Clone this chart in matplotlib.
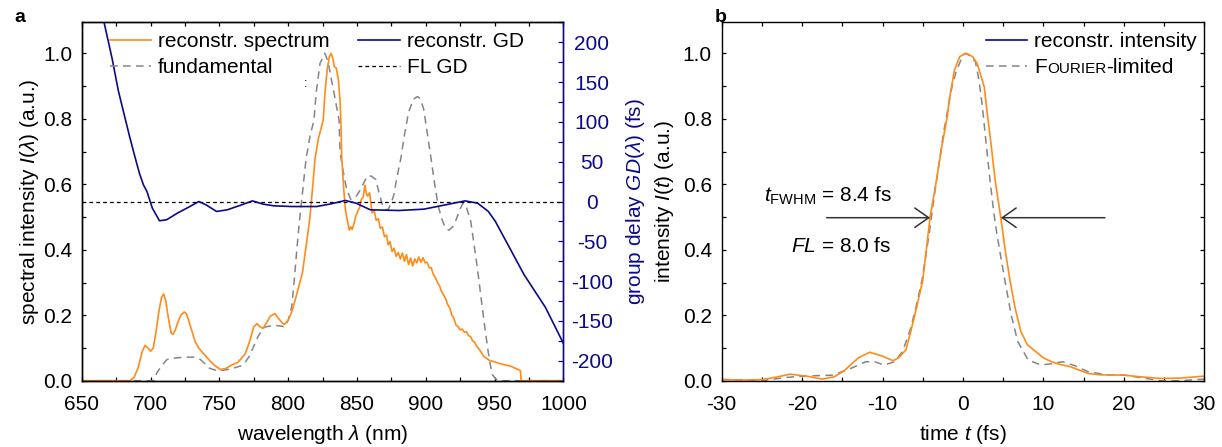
import matplotlib
matplotlib.use("Agg")
import matplotlib.pyplot as plt
from matplotlib.lines import Line2D
from matplotlib.ticker import MultipleLocator, FormatStrFormatter

plt.rcParams['font.family'] = ['Liberation Sans', 'DejaVu Sans']
plt.rcParams['mathtext.fontset'] = 'custom'
plt.rcParams['mathtext.rm'] = 'Liberation Sans'
plt.rcParams['mathtext.it'] = 'Liberation Sans:italic'
plt.rcParams['mathtext.bf'] = 'Liberation Sans:bold'
plt.rcParams['axes.unicode_minus'] = False

# ---------------- data: panel a ----------------
spec_wl = [650, 685, 688, 691, 694, 696, 698, 700, 702, 704, 706, 708, 709.5, 711, 713, 715, 716.5,
           718, 720, 722, 724.5, 726, 728, 730.5, 732.5, 735, 738, 742.9, 747, 751, 755, 759, 763.5,
           768.8, 772, 775, 777.4, 779.5, 781.8, 784, 787, 790.4, 793, 796, 797.4, 800, 802.6, 806,
           810.4, 813, 815.6, 818, 819.5, 822, 825.5, 826.7, 828.5, 830, 831.2, 832.5, 833.5, 835,
           836.5, 837.7, 838.3, 839, 840.5, 841.6, 843, 844.5, 845.5, 846.5, 848, 849, 850.6, 852,
           853.2, 854.5, 855.8, 857, 857.7, 859.2, 860.2, 861, 862.5, 864, 865.5, 867, 868.5, 870,
           871.5, 872.7, 874, 875.5, 877, 878.5, 880, 881.5, 883, 884.5, 886, 887.5, 889, 890.5, 892,
           893.5, 895, 896.5, 898, 899.5, 901, 902.5, 904, 905.5, 907, 908.5, 910, 911.5, 913, 914.5,
           916, 917.5, 919, 920.5, 922, 923.5, 925, 926.5, 928, 929.5, 931, 932.5, 934, 935.5, 937,
           938.5, 940.3, 942, 943.5, 945.5, 948, 950, 953, 956, 959, 962, 965, 968.8, 969.3, 1000]
spec_I = [0, 0, 0.01, 0.04, 0.09, 0.108, 0.1, 0.09, 0.1, 0.15, 0.21, 0.255, 0.265, 0.245, 0.19, 0.145,
          0.142, 0.155, 0.18, 0.2, 0.21, 0.205, 0.18, 0.145, 0.118, 0.1, 0.085, 0.062, 0.045, 0.034,
          0.038, 0.048, 0.056, 0.082, 0.12, 0.165, 0.174, 0.165, 0.16, 0.175, 0.197, 0.205, 0.19,
          0.175, 0.172, 0.185, 0.21, 0.26, 0.33, 0.41, 0.49, 0.6, 0.677, 0.74, 0.796, 0.878, 0.955,
          0.99, 1.0, 0.985, 0.96, 0.955, 0.92, 0.857, 0.796, 0.677, 0.58, 0.523, 0.49, 0.46, 0.47,
          0.462, 0.482, 0.5, 0.518, 0.53, 0.554, 0.56, 0.597, 0.57, 0.564, 0.574, 0.54, 0.513, 0.52,
          0.49, 0.495, 0.465, 0.47, 0.44, 0.445, 0.415, 0.425, 0.395, 0.405, 0.38, 0.392, 0.372,
          0.39, 0.365, 0.385, 0.355, 0.375, 0.35, 0.372, 0.36, 0.378, 0.362, 0.376, 0.36, 0.362,
          0.345, 0.345, 0.325, 0.315, 0.3, 0.29, 0.272, 0.262, 0.25, 0.232, 0.222, 0.2, 0.19, 0.17,
          0.165, 0.155, 0.158, 0.148, 0.15, 0.138, 0.135, 0.122, 0.118, 0.105, 0.098, 0.087, 0.075,
          0.07, 0.064, 0.06, 0.058, 0.053, 0.05, 0.047, 0.044, 0.038, 0.031, 0.0, 0.0]

fund_wl = [650, 702, 705, 708, 711.7, 715, 719.5, 725, 731.2, 734, 736.4, 740, 742.9, 748, 753, 758.4,
           763, 766.2, 769, 771.4, 775, 777.9, 781, 783.1, 789.6, 795, 797.4, 800, 802.6, 804.5,
           806.5, 808.5, 810.4, 813, 816, 818.8, 820.3, 823.2, 826.7, 829, 831, 833.4, 835.5, 837,
           837.7, 840, 842.5, 845.5, 849, 852, 855, 857.7, 860.5, 863.6, 866, 868.8, 870.5, 872.7,
           874.5, 876.6, 879, 881.8, 884.5, 887.5, 891, 894, 896, 898.5, 901, 903.9, 906.5, 909.1,
           912, 914.5, 916.9, 919.5, 922.1, 925, 927.3, 929.5, 932.5, 935, 937.7, 940.3, 942.9,
           945.5, 948.1, 952, 1000]
fund_I = [0, 0, 0.027, 0.045, 0.064, 0.068, 0.07, 0.072, 0.072, 0.07, 0.064, 0.05, 0.038, 0.031,
          0.032, 0.036, 0.042, 0.046, 0.058, 0.072, 0.105, 0.133, 0.155, 0.164, 0.169, 0.167, 0.164,
          0.185, 0.226, 0.31, 0.41, 0.5, 0.574, 0.677, 0.75, 0.796, 0.878, 0.97, 1.0, 0.975, 0.93,
          0.878, 0.83, 0.796, 0.70, 0.64, 0.585, 0.554, 0.56, 0.58, 0.605, 0.626, 0.625, 0.615,
          0.575, 0.533, 0.523, 0.523, 0.54, 0.564, 0.62, 0.677, 0.75, 0.82, 0.86, 0.868, 0.862,
          0.83, 0.76, 0.677, 0.6, 0.533, 0.49, 0.465, 0.46, 0.47, 0.492, 0.525, 0.544, 0.53, 0.492,
          0.42, 0.338, 0.25, 0.164, 0.085, 0.02, 0.0, 0.0]

gd_wl = [660, 666.2, 672, 676.6, 681, 685, 689.6, 692, 694.8, 697.4, 701.3, 706.5, 711.7, 719.5,
         727.3, 735.1, 740.3, 748, 755.8, 766.2, 774, 781.8, 789.6, 802.6, 820.8, 831.2, 841.6,
         849.4, 859.7, 880.5, 898.7, 914.3, 928.6, 937.7, 945.5, 950.6, 961, 971.4, 987, 1000]
gd_fs = [270, 225, 180, 139, 108, 80, 50, 35, 21, 12.5, -8.3, -24.2, -22.9, -14.6, -7.5, 0, -4.2,
         -12.5, -10.4, -4.2, 0.8, -3.3, -5.4, -6.3, -6.3, -2.9, 1.3, -2.1, -10.4, -11.3, -9.6,
         -4.2, 0.8, -2.1, -12.5, -25, -58.3, -91.7, -133, -178]

flgd_wl = [650, 1000]
flgd_fs = [0, 0]

# ---------------- data: panel b ----------------
rec_t = [-30, -27, -25, -23, -21.5, -19.5, -17.5, -16, -14.8, -13, -11.6, -10, -8.7, -8, -7.1, -6.5,
         -5.8, -5.0, -4.1, -3.3, -2.6, -1.93, -1.72, -1.06, -0.41, 0.3, 0.68, 1.2, 1.77, 2.64, 3.07,
         3.5, 4.0, 4.7, 5.3, 5.84, 6.5, 7.2, 8.0, 8.8, 10, 11, 12, 13.3, 14.5, 15.6, 17, 20, 22,
         24.6, 27, 30]
rec_I = [0.003, 0.002, 0.003, 0.012, 0.02, 0.014, 0.005, 0.012, 0.03, 0.07, 0.087, 0.075, 0.061, 0.07,
         0.094, 0.15, 0.22, 0.307, 0.498, 0.612, 0.72, 0.811, 0.857, 0.949, 0.99, 1.0, 0.997, 0.99,
         0.969, 0.898, 0.806, 0.72, 0.612, 0.498, 0.39, 0.307, 0.22, 0.15, 0.11, 0.094, 0.07, 0.058,
         0.05, 0.043, 0.032, 0.022, 0.018, 0.017, 0.012, 0.007, 0.008, 0.014]

fl_t = [-30, -27, -25, -22, -19.8, -16.2, -13.9, -12.1, -11, -9.8, -8.5, -7.5, -6.5, -5.8, -5.1, -4.2,
        -3.6, -3.0, -2.4, -1.37, -0.85, 0.0, 0.37, 1.0, 1.55, 1.99, 2.41, 2.9, 3.36, 3.8, 4.2, 5.2,
        6.0, 6.8, 7.4, 8.1, 9.7, 11, 12.4, 14, 15.6, 18, 20.1, 22.5, 24.6, 27, 30]
fl_I = [0.004, 0.002, 0.0, 0.01, 0.014, 0.017, 0.038, 0.058, 0.058, 0.048, 0.058, 0.09, 0.16, 0.23,
        0.307, 0.45, 0.56, 0.66, 0.76, 0.898, 0.945, 0.995, 1.0, 0.99, 0.974, 0.918, 0.837, 0.72,
        0.612, 0.52, 0.45, 0.307, 0.2, 0.12, 0.094, 0.063, 0.048, 0.052, 0.058, 0.045, 0.027, 0.018,
        0.017, 0.008, 0.0, 0.0, 0.005]

fwhm_t = [-4.1, 4.72]
fwhm_level = 0.498

ORANGE = '#FF8C1A'
NAVY = '#0B0B8A'
GREY = '#858585'
FS = 15

fig = plt.figure(figsize=(12.22, 4.47), dpi=100)
ax1 = fig.add_axes([0.0669, 0.1483, 0.3941, 0.8018])
ax2 = ax1.twinx()
ax3 = fig.add_axes([0.5906, 0.1483, 0.3949, 0.8018])

# panel a
l_fund, = ax1.plot(fund_wl, fund_I, color=GREY, lw=1.1, dashes=(5, 3.5))
l_spec, = ax1.plot(spec_wl, spec_I, color=ORANGE, lw=1.2)
l_flgd, = ax2.plot(flgd_wl, flgd_fs, color='black', lw=0.9, dashes=(3, 2.5))
l_gd, = ax2.plot(gd_wl, gd_fs, color=NAVY, lw=1.2)

ax1.set_xlim(650, 1000)
ax1.set_ylim(0, 1.095)
ax2.set_ylim(-225, 225)
ax1.xaxis.set_major_locator(MultipleLocator(50))
ax1.xaxis.set_minor_locator(MultipleLocator(25))
ax1.yaxis.set_major_locator(MultipleLocator(0.2))
ax1.yaxis.set_minor_locator(MultipleLocator(0.1))
ax1.yaxis.set_major_formatter(FormatStrFormatter('%.1f'))
ax2.yaxis.set_major_locator(MultipleLocator(50))
ax2.yaxis.set_minor_locator(MultipleLocator(25))

for ax in (ax1, ax3):
    ax.tick_params(which='both', direction='in', top=True, right=False, labelsize=FS,
                   length=3, width=0.9, pad=7)
    ax.tick_params(axis='x', which='both', pad=10.5)
ax2.tick_params(which='both', direction='in', colors=NAVY, labelsize=FS, length=3.5, width=0.9,
                pad=20.5)
for ax in (ax1, ax2, ax3):
    for s in ax.spines.values():
        s.set_linewidth(1.0)
ax2.spines['right'].set_color(NAVY)
ax1.spines['right'].set_color(NAVY)

ax1.set_xlabel(r'wavelength $\lambda$ (nm)', fontsize=FS, labelpad=6)
ax1.set_ylabel(r'spectral intensity $I$($\lambda$) (a.u.)', fontsize=FS)
ax1.yaxis.set_label_coords(-0.085, 0.5)
ax2.set_ylabel(r'group delay $GD$($\lambda$) (fs)', fontsize=FS, color=NAVY)
ax2.yaxis.set_label_coords(1.125, 0.5)

ax2.legend([l_spec, l_fund, l_gd, l_flgd],
           ['reconstr. spectrum', 'fundamental', 'reconstr. GD', 'FL GD'],
           ncol=2, loc='upper left', bbox_to_anchor=(0.058, 0.972), frameon=False,
           fontsize=FS, handlelength=2.0, handletextpad=0.33, columnspacing=1.35,
           labelspacing=0.31, borderpad=0, borderaxespad=0)
ax1.text(813, 0.908, ':', fontsize=9, ha='center', va='center')

# panel b
ax3.plot(fl_t, fl_I, color=GREY, lw=1.1, dashes=(5, 3.5))
ax3.plot(rec_t, rec_I, color=ORANGE, lw=1.2)
ax3.set_xlim(-30, 30)
ax3.set_ylim(0, 1.095)
ax3.xaxis.set_major_locator(MultipleLocator(10))
ax3.xaxis.set_minor_locator(MultipleLocator(5))
ax3.yaxis.set_major_locator(MultipleLocator(0.2))
ax3.yaxis.set_minor_locator(MultipleLocator(0.1))
ax3.yaxis.set_major_formatter(FormatStrFormatter('%.1f'))
ax3.tick_params(which='both', right=True)
ax3.set_xlabel(r'time $t$ (fs)', fontsize=FS, labelpad=6)
ax3.set_ylabel(r'intensity $I$($t$) (a.u.)', fontsize=FS)
ax3.yaxis.set_label_coords(-0.094, 0.5)

h1 = Line2D([], [], color=NAVY, lw=1.2)
h2 = Line2D([], [], color=GREY, lw=1.1, dashes=(5, 3.5))
leg3 = ax3.legend([h1, h2], ['reconstr. intensity', 'F'], loc='upper left',
                  bbox_to_anchor=(0.547, 0.972), frameon=False, fontsize=FS, handlelength=2.0,
                  handletextpad=0.33, labelspacing=0.31, borderpad=0, borderaxespad=0)

arrow_kw = dict(arrowstyle='->,head_length=0.5,head_width=0.35', color='#333333', lw=1.1,
                mutation_scale=20, shrinkA=0, shrinkB=0)
ax3.annotate('', xy=(fwhm_t[0], fwhm_level), xytext=(-16.95, fwhm_level), arrowprops=arrow_kw)
ax3.annotate('', xy=(fwhm_t[1], fwhm_level), xytext=(17.65, fwhm_level), arrowprops=arrow_kw)
ax3.text(-8.86, 0.547, r'$t_{\mathrm{FWHM}}$ = 8.4 fs', fontsize=FS, ha='right', va='baseline')
ax3.text(-8.86, 0.394, r'$FL$ = 8.0 fs', fontsize=FS, ha='right', va='baseline')

fig.text(14 / 1222, 1 - 22 / 447, 'a', fontsize=14, fontweight='bold')
fig.text(715 / 1222, 1 - 22 / 447, 'b', fontsize=14, fontweight='bold')

# right-axis tick labels are centred in the reference
fig.canvas.draw()
for tk in ax2.yaxis.get_major_ticks():
    tk.label2.set_horizontalalignment('center')

# small caps "FOURIER-limited"
fig.canvas.draw()
W, H = fig.bbox.width, fig.bbox.height
tF = leg3.get_texts()[1]
bF = tF.get_window_extent()
t2 = fig.text(bF.x1 / W, bF.y0 / H, 'OURIER', fontsize=11, va='bottom', ha='left')
fig.canvas.draw()
b2 = t2.get_window_extent()
t2.set_y((bF.y0 + 1.2) / H)
fig.text(b2.x1 / W, bF.y0 / H, '-limited', fontsize=FS, va='bottom', ha='left')

fig.savefig('out.png', dpi=100)
